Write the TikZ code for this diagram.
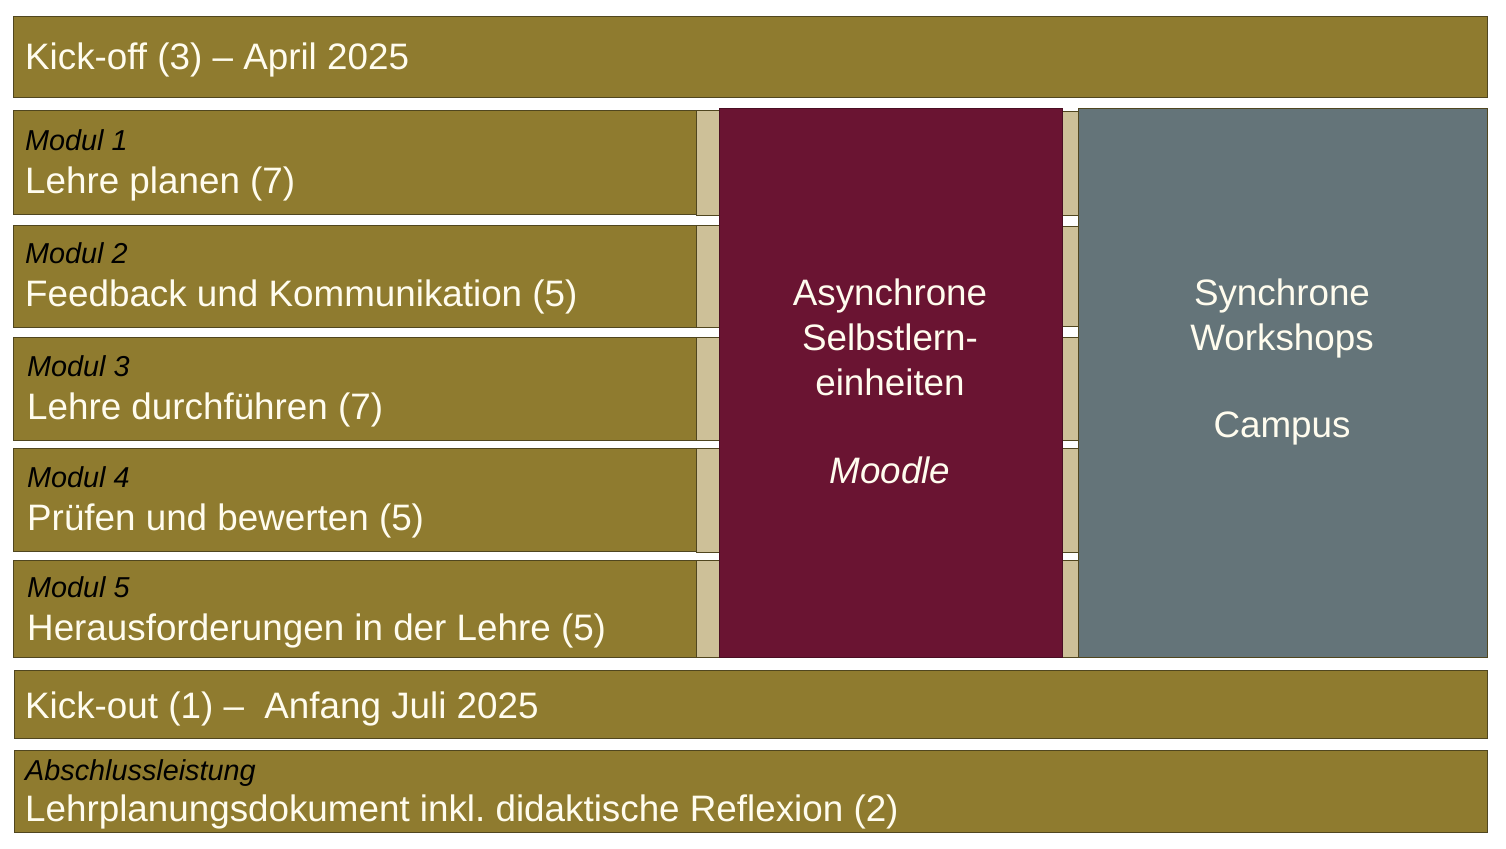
\documentclass[tikz,border=0pt]{standalone}
\usepackage{fontspec}
\setmainfont{Liberation Sans}
\frenchspacing
\definecolor{gold}{RGB}{143,123,47}
\definecolor{maroon}{RGB}{106,20,50}
\definecolor{slate}{RGB}{100,116,121}
\definecolor{beige}{RGB}{205,192,152}
\definecolor{edge}{RGB}{80,70,31}
\definecolor{cream}{RGB}{255,252,238}
\tikzset{
  box/.style={draw=edge, line width=1pt, rectangle, inner sep=0pt, anchor=north west},
  goldbox/.style={box, fill=gold},
  beigebox/.style={box, fill=beige},
  bigtxt/.style={inner sep=0pt, text=cream, font=\fontsize{36.8}{44}\selectfont},
  smalltxt/.style={inner sep=0pt, text=black, font=\fontsize{28.8}{34}\selectfont\itshape},
}
\newcommand{\bx}[6]{\node[#1, minimum width=#4pt, minimum height=#5pt] (#6) at (#2,#3) {};}
\begin{document}
\begin{tikzpicture}[x=1pt,y=-1pt]
\useasboundingbox[fill=white] (0,0) rectangle (1506,848);
% top
\bx{goldbox}{13}{16}{1474}{81}{kickoff}
\node[bigtxt, anchor=base west] (kickofft) at (25,70) {Kick-off (3) – April 2025};
% modules
\bx{goldbox}{13}{110}{683}{104}{m1}
\bx{goldbox}{13}{225}{683}{102}{m2}
\bx{goldbox}{13}{337}{683}{103}{m3}
\bx{goldbox}{13}{448}{683}{103}{m4}
\bx{goldbox}{13}{560}{683}{97}{m5}
% left beige strip segments
\bx{beigebox}{696}{110}{23}{105}{bl1}
\bx{beigebox}{696}{225}{23}{102}{bl2}
\bx{beigebox}{696}{337}{23}{103}{bl3}
\bx{beigebox}{696}{448}{23}{104}{bl4}
\bx{beigebox}{696}{560}{23}{97}{bl5}
% right beige strip segments
\bx{beigebox}{1062}{111}{16}{104}{br1}
\bx{beigebox}{1062}{226}{16}{100}{br2}
\bx{beigebox}{1062}{337}{16}{103}{br3}
\bx{beigebox}{1062}{448}{16}{104}{br4}
\bx{beigebox}{1062}{560}{16}{97}{br5}
% big columns
\node[box, fill=maroon, draw=maroon!70!black, minimum width=343pt, minimum height=549pt] (async) at (719,108) {};
\node[box, fill=slate, minimum width=409pt, minimum height=549pt] (sync) at (1078,108) {};
% module texts
\node[smalltxt, anchor=base west] (m1a) at (25,150) {Modul 1};
\node[bigtxt, anchor=base west] (m1b) at (25,193) {Lehre planen (7)};
\node[smalltxt, anchor=base west] (m2a) at (25,263) {Modul 2};
\node[bigtxt, anchor=base west] (m2b) at (25,306) {Feedback und Kommunikation (5)};
\node[smalltxt, anchor=base west] (m3a) at (27,376) {Modul 3};
\node[bigtxt, anchor=base west] (m3b) at (27,419) {Lehre durchführen (7)};
\node[smalltxt, anchor=base west] (m4a) at (27,487) {Modul 4};
\node[bigtxt, anchor=base west] (m4b) at (27,530) {Prüfen und bewerten (5)};
\node[smalltxt, anchor=base west] (m5a) at (27,597) {Modul 5};
\node[bigtxt, anchor=base west] (m5b) at (27,640) {Herausforderungen in der Lehre (5)};
% column texts
\node[bigtxt, anchor=base] (as1) at (890,305) {Asynchrone};
\node[bigtxt, anchor=base] (as2) at (890,350) {Selbstlern-};
\node[bigtxt, anchor=base] (as3) at (890,395) {einheiten};
\node[bigtxt, anchor=base, font=\fontsize{36.8}{44}\selectfont\itshape] (as4) at (890,483) {Moodle};
\node[bigtxt, anchor=base] (sy1) at (1282,305) {Synchrone};
\node[bigtxt, anchor=base] (sy2) at (1282,350) {Workshops};
\node[bigtxt, anchor=base] (sy3) at (1282,437) {Campus};
% bottom
\bx{goldbox}{14}{670}{1473}{68}{kickout}
\node[bigtxt, anchor=base west] (kickoutt) at (25,718) {Kick-out (1) –\ \ Anfang Juli 2025};
\bx{goldbox}{14}{750}{1473}{82}{final}
\node[smalltxt, anchor=base west] (finala) at (25,780) {Abschlussleistung};
\node[bigtxt, anchor=base west] (finalb) at (25,821) {Lehrplanungsdokument inkl. didaktische Reflexion (2)};
\end{tikzpicture}
\end{document}
